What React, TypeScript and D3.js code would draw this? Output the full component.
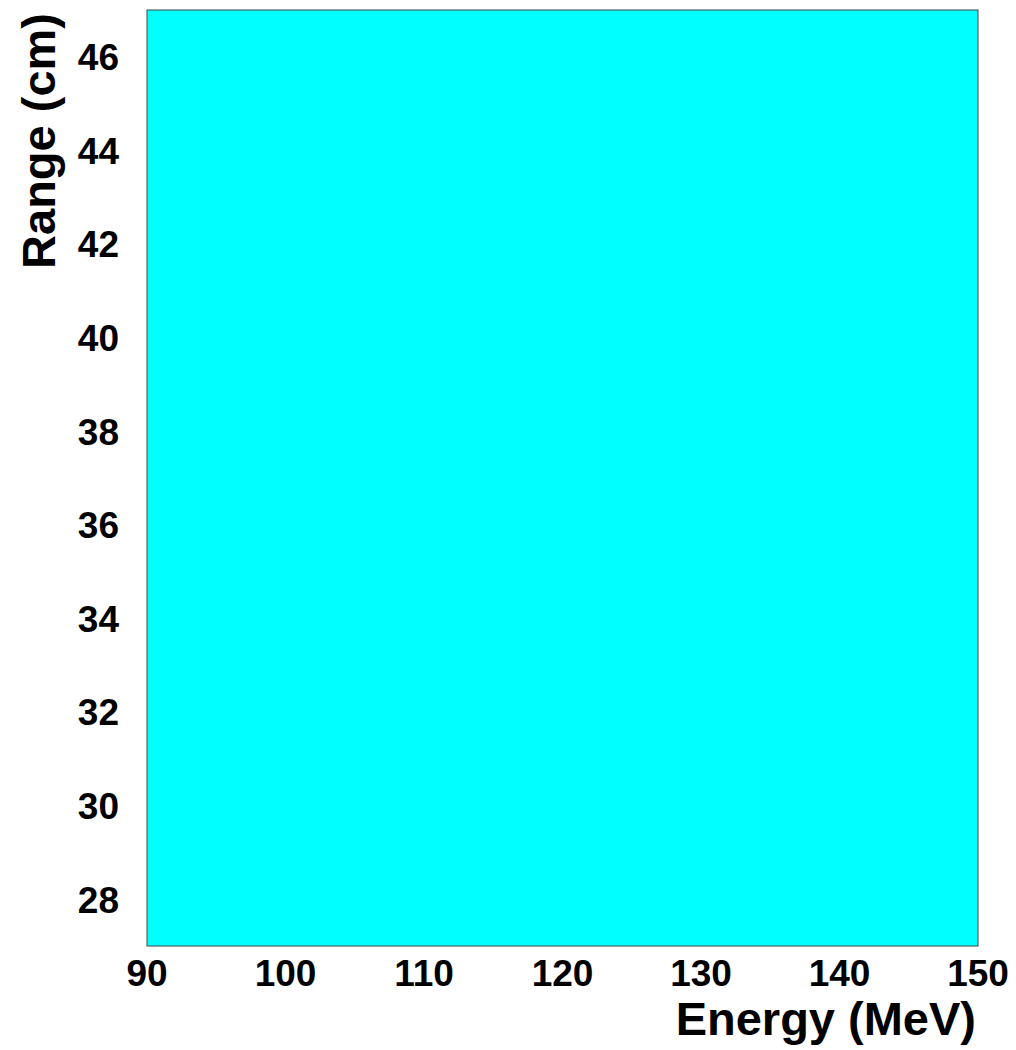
import React from 'react'
import * as d3 from 'd3'

// axis ranges and tick labels
const xDomain = [90, 150]
const yDomain = [27, 47]
const xTicks = [90, 100, 110, 120, 130, 140, 150]
const yTicks = [28, 30, 32, 34, 36, 38, 40, 42, 44, 46]

const xTitle = 'Energy (MeV)'
const yTitle = 'Range (cm)'

export default function App() {
  // set width, height and plot frame
  const width = 1016,
    height = 1050
  const left = 147,
    right = 978,
    top = 10,
    bottom = 946

  const x = d3.scaleLinear().domain(xDomain).range([left, right])
  const y = d3.scaleLinear().domain(yDomain).range([bottom, top])

  const font = '"Liberation Sans", Arial, sans-serif'

  return (
    <svg
      width={width}
      height={height}
      style={{ position: 'absolute', left: 0, top: 0 }}
      fontFamily={font}
      fontWeight="bold"
    >
      <rect width={width} height={height} fill="#fff" />
      <rect
        x={x(xDomain[0])}
        y={y(yDomain[1])}
        width={x(xDomain[1]) - x(xDomain[0])}
        height={y(yDomain[0]) - y(yDomain[1])}
        fill="#00ffff"
        stroke="#444"
        strokeWidth={1}
      />
      <g fontSize={37} fill="#000">
        {xTicks.map(d => (
          <text key={d} x={x(d)} y={986} textAnchor="middle">
            {d}
          </text>
        ))}
        {yTicks.map(d => (
          <text key={d} x={119} y={y(d)} dy="0.36em" textAnchor="end">
            {d}
          </text>
        ))}
      </g>
      <text x={976} y={1035} fontSize={47} textAnchor="end">
        {xTitle}
      </text>
      <text
        transform={`translate(55, 13) rotate(-90)`}
        fontSize={47}
        textAnchor="end"
      >
        {yTitle}
      </text>
    </svg>
  )
}
